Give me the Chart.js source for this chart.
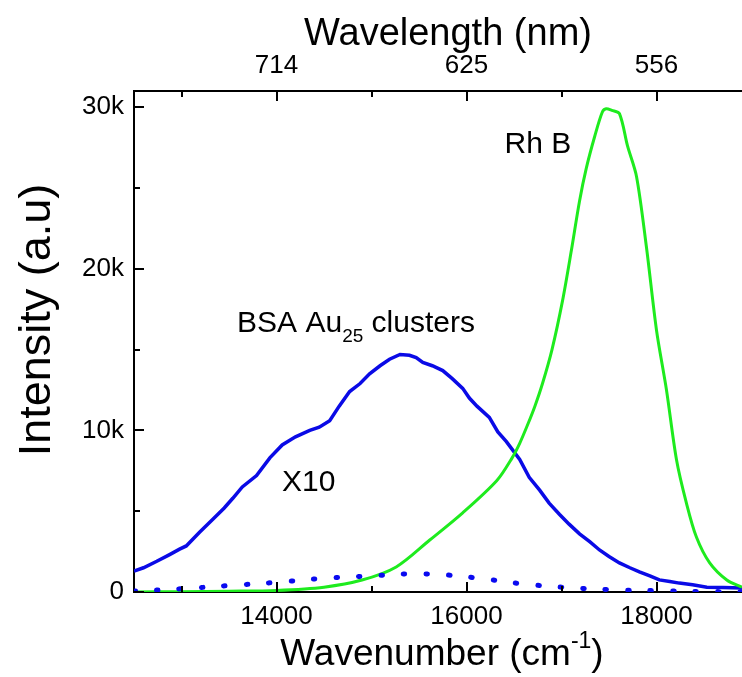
<!DOCTYPE html>
<html>
<head>
<meta charset="utf-8">
<script src="https://cdn.jsdelivr.net/npm/chart.js@4.4.1/dist/chart.umd.min.js"></script>
<style>
  html, body { margin: 0; padding: 0; background: #fff; overflow: hidden; }
  #wrap { width: 742px; height: 677px; }
</style>
</head>
<body>
<div id="wrap"><canvas id="spectra"></canvas></div>
<script>
// wavenumber (cm-1) / intensity (k counts)
var rhbX = [12500, 13000, 13500, 14000, 14500, 14900, 15260, 15610, 15960, 16320, 16480, 16560, 16640, 16720, 16800, 16900, 17010, 17100, 17190, 17260, 17350, 17430, 17470, 17530, 17610, 17695, 17790, 17895, 18000, 18105, 18210, 18315, 18420, 18560, 18740, 18900];
var rhbY = [0, 0.02, 0.05, 0.1, 0.3, 0.74, 1.55, 3.2, 4.9, 6.9, 8.3, 9.2, 10.3, 11.5, 12.9, 15.0, 18.0, 21.0, 24.2, 26.2, 28.2, 29.7, 29.9, 29.8, 29.6, 27.6, 25.7, 21.3, 16.2, 12.5, 8.2, 5.5, 3.4, 1.8, 0.74, 0.3];

var bsaX = [12500, 12600, 12740, 12870, 12980, 13050, 13190, 13330, 13450, 13540, 13640, 13790, 13930, 14060, 14200, 14350, 14450, 14560, 14660, 14770, 14880, 14980, 15090, 15190, 15300, 15400, 15470, 15540, 15640, 15750, 15850, 15960, 16030, 16110, 16240, 16330, 16420, 16560, 16660, 16770, 16870, 16980, 17080, 17190, 17300, 17400, 17500, 17610, 17720, 17820, 17930, 18030, 18140, 18240, 18380, 18530, 18700, 18900];
var bsaY = [1.3, 1.5, 1.9, 2.3, 2.65, 2.85, 3.7, 4.5, 5.2, 5.8, 6.5, 7.2, 8.3, 9.1, 9.6, 10.0, 10.2, 10.6, 11.5, 12.4, 12.9, 13.5, 14.0, 14.4, 14.7, 14.65, 14.5, 14.2, 14.0, 13.7, 13.2, 12.6, 12.0, 11.5, 10.8, 9.9, 9.3, 8.2, 7.1, 6.3, 5.5, 4.8, 4.2, 3.6, 3.1, 2.6, 2.2, 1.8, 1.5, 1.25, 1.0, 0.75, 0.65, 0.55, 0.45, 0.3, 0.28, 0.25];

// unscaled BSA (dotted)
var bsa1X = [12500, 13000, 13500, 14000, 14500, 15000, 15400, 15800, 16200, 16600, 17000, 17500, 18000, 18500, 18900];
var bsa1Y = [0.05, 0.2, 0.4, 0.6, 0.85, 1.0, 1.12, 1.05, 0.8, 0.5, 0.3, 0.15, 0.08, 0.03, 0.02];

var xTicks = [13000, 14000, 15000, 16000, 17000, 18000];
var yTicks = [0, 5000, 10000, 15000, 20000, 25000, 30000];

function toPoints(xs, ys) {
    return xs.map(function (x, i) { return { x: x, y: ys[i] * 1000 }; });
}

var FONT = "'Liberation Sans', Arial, sans-serif";

// inward ticks, axis titles and labels inside the plot
var decoPlugin = {
    id: 'deco',
    afterDraw: function (chart) {
        var ctx = chart.ctx;
        var a = chart.chartArea;
        var xs = chart.scales.x, ys = chart.scales.y;
        ctx.save();
        ctx.strokeStyle = '#000';
        ctx.lineWidth = 2;
        ['x', 'x2'].forEach(function (id) {
            var s = chart.scales[id];
            xTicks.forEach(function (v) {
                var px = Math.round(s.getPixelForValue(v));
                var len = v % 2000 === 0 ? 10 : 6;
                ctx.beginPath();
                if (id === 'x') { ctx.moveTo(px, a.bottom); ctx.lineTo(px, a.bottom - len); }
                else { ctx.moveTo(px, a.top); ctx.lineTo(px, a.top + len); }
                ctx.stroke();
            });
        });
        yTicks.forEach(function (v) {
            var py = Math.round(ys.getPixelForValue(v));
            var len = v % 10000 === 0 ? 10 : 6;
            ctx.beginPath();
            ctx.moveTo(a.left, py);
            ctx.lineTo(a.left + len, py);
            ctx.stroke();
        });

        ctx.fillStyle = '#000';
        ctx.textBaseline = 'alphabetic';

        // top title
        ctx.font = '38px ' + FONT;
        ctx.textAlign = 'center';
        ctx.fillText('Wavelength (nm)', 448, 45);

        // bottom title with superscript
        ctx.textAlign = 'left';
        var big = '37px ' + FONT, small = '23px ' + FONT;
        ctx.font = big;
        var p1 = 'Wavenumber (cm', p3 = ')';
        var w1 = ctx.measureText(p1).width, w3 = ctx.measureText(p3).width;
        ctx.font = small;
        var w2 = ctx.measureText('-1').width;
        var x0 = 442 - (w1 + w2 + w3) / 2;
        ctx.font = big;
        ctx.fillText(p1, x0, 665);
        ctx.font = small;
        ctx.fillText('-1', x0 + w1, 648);
        ctx.font = big;
        ctx.fillText(p3, x0 + w1 + w2, 665);

        // y title
        ctx.save();
        ctx.translate(50, 320);
        ctx.rotate(-Math.PI / 2);
        ctx.textAlign = 'center';
        ctx.font = '45px ' + FONT;
        ctx.fillText('Intensity (a.u)', 0, 0);
        ctx.restore();

        // labels
        ctx.textAlign = 'left';
        ctx.font = '30px ' + FONT;
        var bx = xs.getPixelForValue(13585), by = ys.getPixelForValue(16100);
        var t1 = 'BSA Au';
        ctx.fillText(t1, bx, by);
        var tw = ctx.measureText(t1).width;
        ctx.font = '19px ' + FONT;
        ctx.fillText('25', bx + tw, by + 10);
        var sw = ctx.measureText('25').width;
        ctx.font = '30px ' + FONT;
        ctx.fillText(' clusters', bx + tw + sw, by);
        ctx.fillText('X10', xs.getPixelForValue(14058), ys.getPixelForValue(6250));
        ctx.fillText('Rh B', xs.getPixelForValue(16400), ys.getPixelForValue(27150));
        ctx.restore();
    }
};

var ctx = document.getElementById('spectra').getContext('2d');
var chart = new Chart(ctx, {
    type: 'line',
    data: {
        datasets: [
            {
                label: 'BSA Au25 x1',
                data: toPoints(bsa1X, bsa1Y),
                borderColor: 'rgb(10, 10, 240)',
                borderWidth: 5,
                borderDash: [1.5, 21],
                borderCapStyle: 'round',
                tension: 0.4,
                pointRadius: 0
            },
            {
                label: 'Rh B',
                data: toPoints(rhbX, rhbY),
                borderColor: 'rgb(30, 235, 30)',
                borderWidth: 3,
                tension: 0.3,
                pointRadius: 0
            },
            {
                label: 'BSA Au25 x10',
                data: toPoints(bsaX, bsaY),
                borderColor: 'rgb(10, 10, 230)',
                borderWidth: 3.5,
                tension: 0,
                pointRadius: 0
            }
        ]
    },
    options: {
        responsive: true,
        maintainAspectRatio: false,
        animation: false,
        layout: { padding: 0 },
        plugins: {
            legend: { display: false },
            tooltip: { enabled: false }
        },
        scales: {
            x: {
                type: 'linear',
                position: 'bottom',
                min: 12500,
                max: 18900,
                afterBuildTicks: function (s) { s.ticks = xTicks.map(function (v) { return { value: v }; }); },
                afterFit: function (s) { s.height = 85; },
                grid: { display: true, drawOnChartArea: false, drawTicks: false },
                border: { display: true, color: '#000', width: 2 },
                ticks: {
                    padding: 9,
                    maxRotation: 0,
                    autoSkip: false,
                    color: '#000',
                    font: { family: FONT, size: 26 },
                    callback: function (v) { return v % 2000 === 0 ? String(v) : ''; }
                }
            },
            x2: {
                type: 'linear',
                position: 'top',
                min: 12500,
                max: 18900,
                afterBuildTicks: function (s) { s.ticks = xTicks.map(function (v) { return { value: v }; }); },
                afterFit: function (s) { s.height = 91; },
                grid: { display: true, drawOnChartArea: false, drawTicks: false },
                border: { display: true, color: '#000', width: 2 },
                ticks: {
                    padding: 10,
                    maxRotation: 0,
                    autoSkip: false,
                    color: '#000',
                    font: { family: FONT, size: 26 },
                    callback: function (v) { return v % 2000 === 0 ? String(Math.round(1e7 / v)) : ''; }
                }
            },
            y: {
                type: 'linear',
                position: 'left',
                min: 0,
                max: 31000,
                afterBuildTicks: function (s) { s.ticks = yTicks.map(function (v) { return { value: v }; }); },
                afterFit: function (s) { s.width = 134; },
                grid: { display: true, drawOnChartArea: false, drawTicks: false },
                border: { display: true, color: '#000', width: 2 },
                ticks: {
                    padding: 10,
                    autoSkip: false,
                    color: '#000',
                    font: { family: FONT, size: 26 },
                    callback: function (v) {
                        if (v % 10000 !== 0) return '';
                        return v === 0 ? '0' : (v / 1000) + 'k';
                    }
                }
            }
        }
    },
    plugins: [decoPlugin]
});
</script>
</body>
</html>
